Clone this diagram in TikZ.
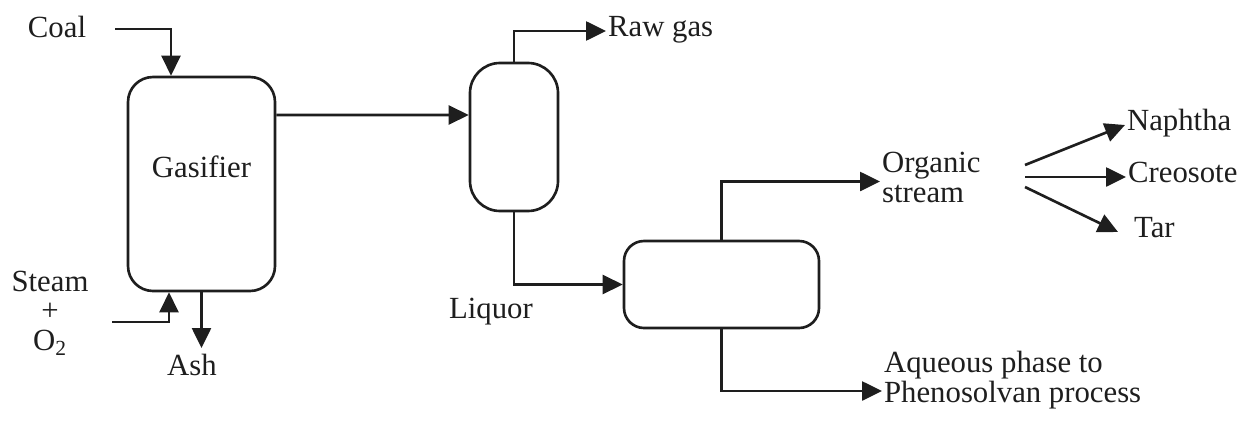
\documentclass[tikz,border=0pt]{standalone}
\usepackage{fontspec}
\setmainfont{Liberation Serif}
\usepackage{tikz}
\usetikzlibrary{arrows.meta, positioning}
\definecolor{myink}{RGB}{30,30,30}
\tikzset{
  vessel/.style={rectangle, draw=myink, line width=1.5pt, inner sep=0pt},
  tag/.style={inner sep=1pt, text=myink},
  oneline/.style={tag, text height=1.6ex, text depth=0.3ex},
  flow/.style={-{Triangle[length=0.4cm, width=0.38cm]}, line width=1.5pt, color=myink}
}

\begin{document}
\begin{tikzpicture}[every node/.style={font=\fontsize{17.5pt}{17pt}\selectfont}]
  \useasboundingbox (0,0) rectangle (24.88,8.42);

  % Vessels
  \node[vessel, minimum width=2.94cm, minimum height=4.28cm, rounded corners=0.5cm] (gasifier) at (4.03,4.74) {};
  \node[vessel, minimum width=1.76cm, minimum height=2.96cm, rounded corners=0.6cm] (sepA) at (10.28,5.68) {};
  \node[vessel, minimum width=3.9cm, minimum height=1.74cm, rounded corners=0.4cm] (sepB) at (14.43,2.73) {};
  \node[oneline] (gastext) at ([yshift=0.24cm]gasifier.center) {Gasifier};

  % Stream labels
  \node[oneline] (coal) at (1.14,7.78) {Coal};
  \node[tag, align=center] (steam) at (1.0,2.16) {Steam\\+\\O\textsubscript{2}};
  \node[oneline] (ash) at (3.84,1.02) {Ash};
  \node[oneline, anchor=west] (rawgas) at (12.12,7.8) {Raw gas};
  \node[oneline] (liquor) at (9.82,2.16) {Liquor};
  \node[tag, anchor=west, align=left] (organic) at (17.6,4.87) {Organic\\stream};
  \node[tag, anchor=west, align=left] (aqueous) at (17.64,0.82) {Aqueous phase to\\Phenosolvan process};
  \node[oneline, anchor=west] (naphtha) at (22.5,5.92) {Naphtha};
  \node[oneline, anchor=west] (creosote) at (22.52,4.88) {Creosote};
  \node[oneline, anchor=west] (tar) at (22.64,3.78) {Tar};

  % Free ends
  \coordinate (coalin) at (2.3,7.84);
  \coordinate (steamin) at (2.24,1.98);
  \coordinate (ashout) at (4.03,1.46);
  \coordinate (split) at (20.5,4.88);

  % Flows
  \draw[flow] (coalin) -| ([xshift=-0.61cm]gasifier.north);
  \draw[flow] (steamin) -| ([xshift=-0.65cm]gasifier.south);
  \draw[flow] (gasifier.south) -- (ashout);
  \draw[flow] ([yshift=1.38cm]gasifier.east) -- ([yshift=0.44cm]sepA.west);
  \draw[flow] (sepA.north) |- (rawgas.west);
  \draw[flow] (sepA.south) |- (sepB.west);
  \draw[flow] (sepB.north) |- ([yshift=-0.08cm]organic.west);
  \draw[flow] (sepB.south) |- ([yshift=-0.22cm]aqueous.west);
  \draw[flow] ([yshift=0.24cm]split) -- (naphtha.west);
  \draw[flow] (split) -- (creosote.west);
  \draw[flow] ([yshift=-0.2cm]split) -- ([xshift=-0.28cm]tar.west);
\end{tikzpicture}
\end{document}
